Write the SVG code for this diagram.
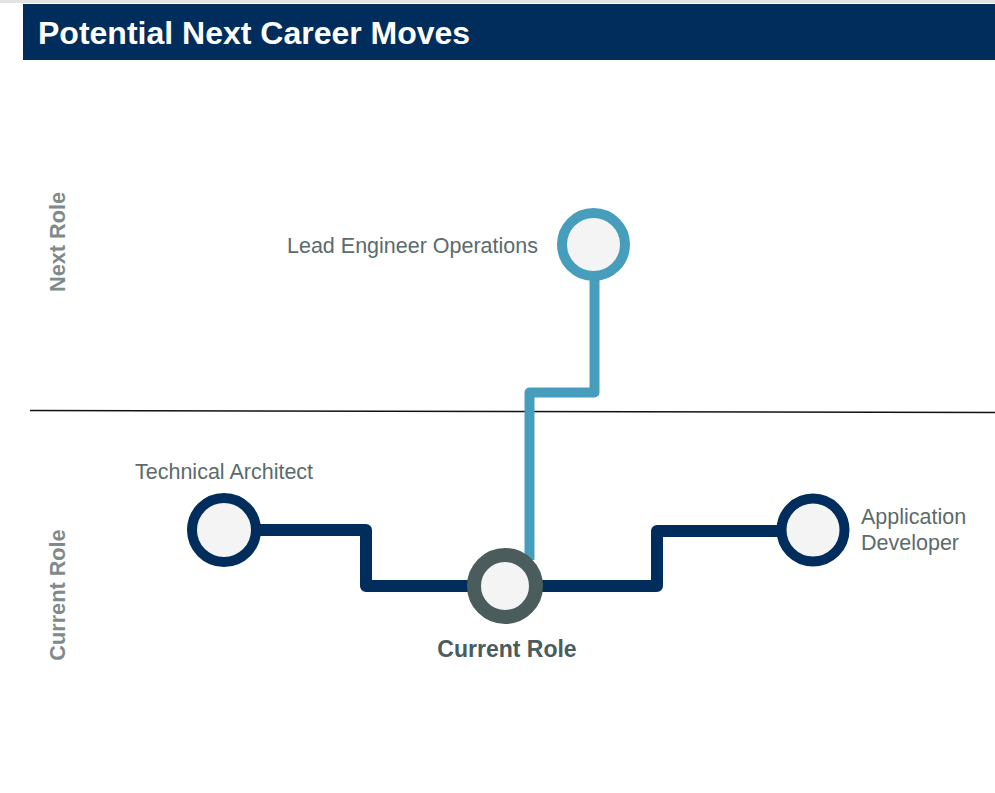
<svg xmlns="http://www.w3.org/2000/svg" width="995" height="793" viewBox="0 0 995 793">
<style>
.lbl{font-family:"Liberation Sans",Arial,sans-serif;font-size:21.5px;fill:#5B6B6B}
.axis{font-family:"Liberation Sans",Arial,sans-serif;font-size:21.7px;font-weight:bold;fill:#7F8B8B}
.node{fill:#F4F4F4}
.conn{fill:none;stroke-linejoin:round;stroke-linecap:butt}
</style>
<rect x="0" y="0" width="995" height="793" fill="#FFFFFF"/>
<rect x="0" y="0" width="995" height="3" fill="#E3E3E3"/>
<g id="header">
<rect x="23" y="4" width="972" height="56" fill="#002D5C"/>
<text x="38" y="44" font-family="Liberation Sans, Arial, sans-serif" font-size="32" font-weight="bold" fill="#FFFFFF">Potential Next Career Moves</text>
</g>
<g id="divider">
<line x1="30" y1="410.5" x2="995" y2="412.5" stroke="#111111" stroke-width="1.5"/>
</g>
<g id="axis-labels">
<text class="axis" transform="translate(65,242) rotate(-90)" text-anchor="middle">Next Role</text>
<text class="axis" transform="translate(65,595) rotate(-90)" text-anchor="middle">Current Role</text>
</g>
<g id="connectors">
<path class="conn" d="M594.5,278 V392.5 H529.5 V560" stroke="#469DBC" stroke-width="10"/>
<path class="conn" d="M258,530 H366 V586 H475" stroke="#002D5C" stroke-width="12"/>
<path class="conn" d="M535,586 H657 V531 H780" stroke="#002D5C" stroke-width="12"/>
</g>
<g id="node-lead">
<circle class="node" cx="593.5" cy="244.5" r="31.5" stroke="#469DBC" stroke-width="10"/>
<text class="lbl" x="538" y="253" text-anchor="end">Lead Engineer Operations</text>
</g>
<g id="node-tech">
<circle class="node" cx="224" cy="530" r="32" stroke="#002D5C" stroke-width="10"/>
<text class="lbl" x="135" y="479">Technical Architect</text>
</g>
<g id="node-app">
<circle class="node" cx="813" cy="530" r="31.5" stroke="#002D5C" stroke-width="10"/>
<text class="lbl" x="861" y="524">Application</text>
<text class="lbl" x="861" y="550">Developer</text>
</g>
<g id="node-current">
<circle class="node" cx="505" cy="586" r="31" stroke="#4A5C5C" stroke-width="14"/>
<text x="507" y="657" text-anchor="middle" font-family="Liberation Sans, Arial, sans-serif" font-size="23" font-weight="bold" fill="#4A5C5C">Current Role</text>
</g>
</svg>
